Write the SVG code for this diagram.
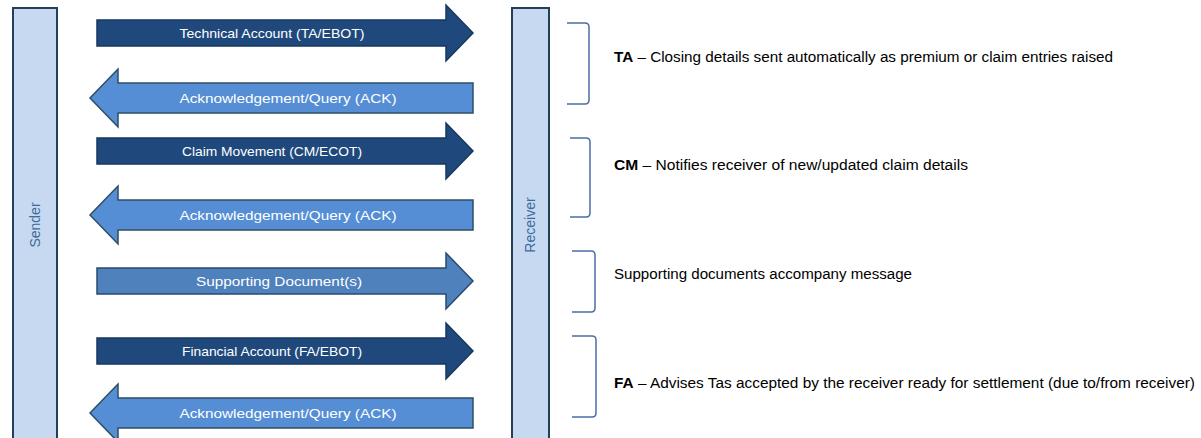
<svg xmlns="http://www.w3.org/2000/svg" width="1201" height="438" viewBox="0 0 1201 438">
<style>
.bar{fill:#C6D9F1;stroke:#243F5A;stroke-width:2}
.dark{fill:#1F497D;stroke:#17375E;stroke-width:1.5}
.ack{fill:#558ED5;stroke:#2E4D63;stroke-width:1.5}
.mid{fill:#4F81BD;stroke:#2A4A6F;stroke-width:1.5}
.lbl{font-family:"Liberation Sans",Arial,sans-serif;font-size:13.5px;fill:#FFFFFF;text-anchor:middle}
.side{font-family:"Liberation Sans",Arial,sans-serif;font-size:14px;fill:#3F6A9A;text-anchor:middle}
.desc{font-family:"Liberation Sans",Arial,sans-serif;font-size:14px;fill:#000000}
.br{fill:none;stroke:#4A6FA5;stroke-width:1.5}
</style>
<rect width="1201" height="438" fill="#FFFFFF"/>
<g id="sender">
<rect class="bar" x="13" y="8" width="44" height="440"/>
<text class="side" transform="translate(40,225) rotate(-90)">Sender</text>
</g>
<g id="receiver">
<rect class="bar" x="512" y="8" width="37" height="440"/>
<text class="side" transform="translate(535,225) rotate(-90)">Receiver</text>
</g>
<g id="connectors">
<g id="a1"><path class="dark" d="M97,20 H446 V5 L473,33 L446,61 V46 H97 Z"/><text class="lbl" x="272" y="38" textLength="185" lengthAdjust="spacingAndGlyphs">Technical Account (TA/EBOT)</text></g>
<g id="a2"><path class="ack" d="M473,83 H118 V69 L90,98 L118,127 V113 H473 Z"/><text class="lbl" x="288" y="103" textLength="217" lengthAdjust="spacingAndGlyphs">Acknowledgement/Query (ACK)</text></g>
<g id="a3"><path class="dark" d="M97,138 H446 V123 L473,151 L446,179 V164 H97 Z"/><text class="lbl" x="272" y="156" textLength="180" lengthAdjust="spacingAndGlyphs">Claim Movement (CM/ECOT)</text></g>
<g id="a4"><path class="ack" d="M473,200 H118 V186 L90,215 L118,244 V230 H473 Z"/><text class="lbl" x="288" y="220" textLength="217" lengthAdjust="spacingAndGlyphs">Acknowledgement/Query (ACK)</text></g>
<g id="a5"><path class="mid" d="M97,268 H446 V253 L473,281 L446,309 V294 H97 Z"/><text class="lbl" x="279" y="286" textLength="166" lengthAdjust="spacingAndGlyphs">Supporting Document(s)</text></g>
<g id="a6"><path class="dark" d="M97,338 H446 V323 L473,351 L446,379 V364 H97 Z"/><text class="lbl" x="272" y="356" textLength="180" lengthAdjust="spacingAndGlyphs">Financial Account (FA/EBOT)</text></g>
<g id="a7"><path class="ack" d="M473,398 H118 V384 L90,413 L118,442 V428 H473 Z"/><text class="lbl" x="288" y="418" textLength="217" lengthAdjust="spacingAndGlyphs">Acknowledgement/Query (ACK)</text></g>
</g>
<g id="brackets">
<path class="br" d="M567,23 H585 Q589,23 589,27 V100 Q589,104 585,104 H567"/>
<path class="br" d="M570,138 H586 Q590,138 590,142 V213 Q590,217 586,217 H570"/>
<path class="br" d="M572,251 H591 Q595,251 595,255 V308 Q595,312 591,312 H572"/>
<path class="br" d="M572,336 H592 Q596,336 596,340 V413 Q596,417 592,417 H572"/>
</g>
<g id="notes">
<text class="desc" x="614" y="62" textLength="499" lengthAdjust="spacingAndGlyphs"><tspan font-weight="bold">TA</tspan> – Closing details sent automatically as premium or claim entries raised</text>
<text class="desc" x="614" y="170" textLength="354" lengthAdjust="spacingAndGlyphs"><tspan font-weight="bold">CM</tspan> – Notifies receiver of new/updated claim details</text>
<text class="desc" x="614" y="279" textLength="298" lengthAdjust="spacingAndGlyphs">Supporting documents accompany message</text>
<text class="desc" x="614" y="388" textLength="581" lengthAdjust="spacingAndGlyphs"><tspan font-weight="bold">FA</tspan> – Advises Tas accepted by the receiver ready for settlement (due to/from receiver)</text>
</g>
</svg>
